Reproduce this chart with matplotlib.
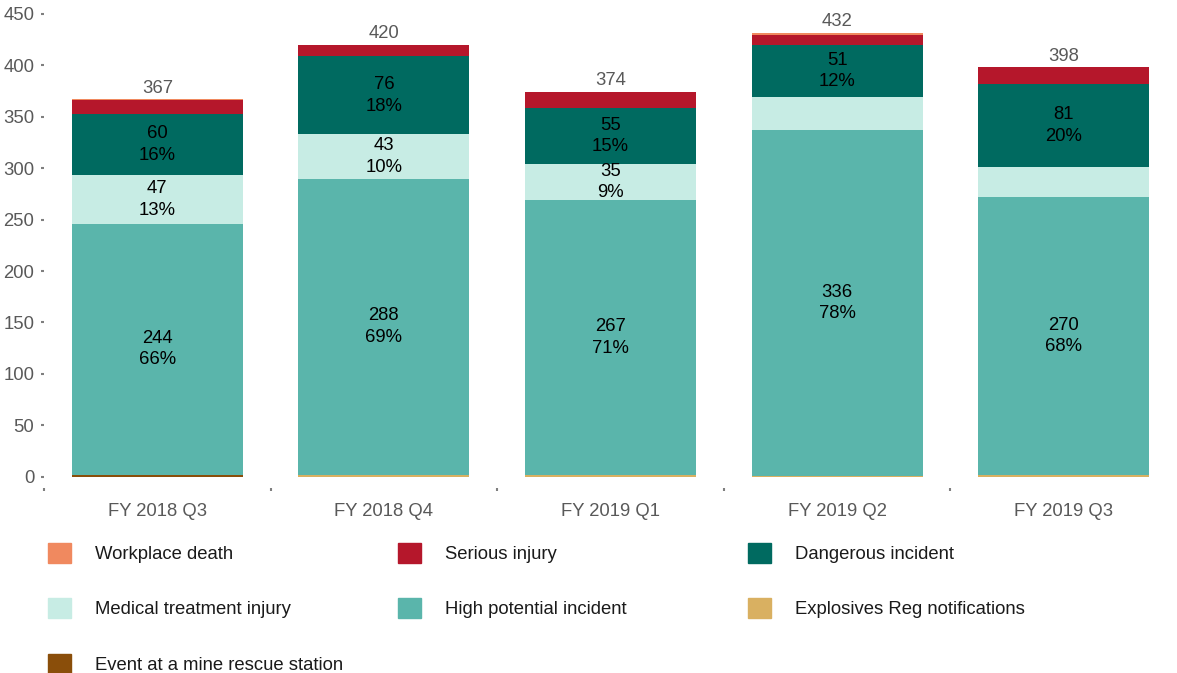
import numpy as np
import matplotlib.pyplot as plt
from matplotlib.patches import Patch

plt.rcParams['font.family'] = ['Liberation Sans', 'DejaVu Sans']

# Data
quarters = ["FY 2018 Q3", "FY 2018 Q4", "FY 2019 Q1", "FY 2019 Q2", "FY 2019 Q3"]
event_rescue = [2, 0, 0, 0, 0]
explosives = [0, 2, 2, 1, 2]
high_potential = [244, 288, 267, 336, 270]
medical = [47, 43, 35, 32, 29]
dangerous = [60, 76, 55, 51, 81]
serious = [13, 11, 15, 10, 16]
death = [1, 0, 0, 2, 0]

series = [
    ("Event at a mine rescue station", event_rescue, "#8A4E0A"),
    ("Explosives Reg notifications", explosives, "#D9B061"),
    ("High potential incident", high_potential, "#5AB5AB"),
    ("Medical treatment injury", medical, "#C7ECE4"),
    ("Dangerous incident", dangerous, "#006A60"),
    ("Serious injury", serious, "#B5172B"),
    ("Workplace death", death, "#F0895F"),
]
labelled = ["High potential incident", "Medical treatment injury", "Dangerous incident"]
FS = 13.3

fig = plt.figure(figsize=(11.77, 6.73), dpi=100)
ax = fig.add_axes([44 / 1177, 1 - 488 / 673, 1 - 44 / 1177, (488 - 14) / 673])

x = np.arange(len(quarters))
totals = np.sum([s[1] for s in series], axis=0)
bottom = np.zeros(len(quarters))
handles = {}
for name, vals, col in series:
    vals = np.array(vals, dtype=float)
    ax.bar(x, vals, 0.755, bottom=bottom, color=col, linewidth=0)
    handles[name] = Patch(color=col, label=name)
    if name in labelled:
        for i, v in enumerate(vals):
            if v >= 33:
                pct = round(v / totals[i] * 100)
                ax.text(x[i], bottom[i] + v / 2, f"{int(v)}\n{pct}%", ha="center", va="center",
                        fontsize=FS, color="black", linespacing=1.35)
    bottom += vals

for i, t in enumerate(totals):
    ax.annotate(str(int(t)), (x[i], t), xytext=(0, 2), textcoords="offset points",
                ha="center", va="bottom", fontsize=FS, color="#595959")

ax.set_xlim(-0.5, 4.5)
ax.set_ylim(-11, 450)
ax.set_yticks(np.arange(0, 451, 50))
ax.set_xticks(x)
ax.set_xticklabels(quarters)
ax.set_xticks(np.arange(-0.5, 4.0, 1), minor=True)
for s in ax.spines.values():
    s.set_visible(False)
ax.tick_params(axis="y", length=2, width=1.5, color="#7f7f7f", labelsize=FS,
               labelcolor="#595959", pad=5)
ax.tick_params(axis="x", which="major", length=0, labelsize=FS, labelcolor="#595959", pad=11)
ax.tick_params(axis="x", which="minor", length=2, width=1.5, color="#7f7f7f")

# Legend laid out row by row in three columns
cols = [
    ["Workplace death", "Medical treatment injury", "Event at a mine rescue station"],
    ["Serious injury", "High potential incident"],
    ["Dangerous incident", "Explosives Reg notifications"],
]
for j, names in enumerate(cols):
    leg = fig.legend(handles=[handles[n] for n in names], loc="upper left",
                     bbox_to_anchor=((41 + 350 * j) / 1177, 1 - 536 / 673),
                     frameon=False, fontsize=FS, handlelength=1.25, handleheight=1.25,
                     handletextpad=1.3, labelspacing=1.9, borderaxespad=0)
    for txt in leg.get_texts():
        txt.set_color("#1a1a1a")

fig.savefig("out.png", dpi=100)
